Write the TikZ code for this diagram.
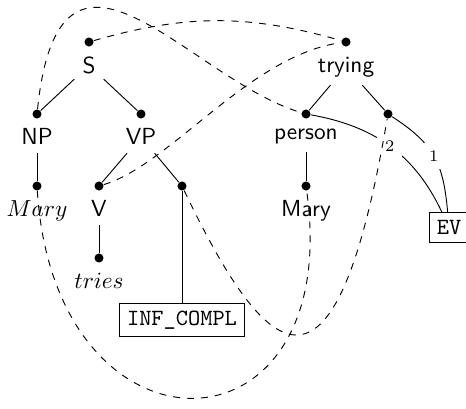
\documentclass[tikz,border=0pt]{standalone}
\usetikzlibrary{positioning}

\begin{document}
\begin{tikzpicture}[x=0.43pt,y=-0.43pt,
  dot/.style={circle,fill=black,inner sep=0pt,minimum size=3.9pt},
  lab/.style={font=\sffamily},
  box/.style={draw,font=\ttfamily},
  link/.style={dashed},
  num/.style={fill=white,font=\scriptsize}]
\useasboundingbox (0,0) rectangle (466,409);

%left tree
\node[dot] (sdot) at (89,42) {};
\node[lab,below=0.7pt of sdot] (S) {S};
\node[dot] (npdot) at (37,114) {};
\node[lab,below=0.7pt of npdot] (NP) {NP};
\node[dot] (vpdot) at (141,114) {};
\node[lab,below=0.7pt of vpdot] (VP) {VP};
\node[dot] (marydot) at (37,186) {};
\node[below=0.7pt of marydot] (mary) {$Mary$};
\node[dot] (vdot) at (99,186) {};
\node[lab,below=0.7pt of vdot] (V) {V};
\node[dot] (compdot) at (182,186) {};
\node[dot] (triesdot) at (99,258) {};
\node[below=0.7pt of triesdot] (tries) {$tries$};
\node[box] (comp) at (182,320) {INF\_COMPL};

%right tree
\node[dot] (trydot) at (346,42) {};
\node[lab,below=0.7pt of trydot] (trying) {trying};
\node[dot] (perdot) at (306,114) {};
\node[lab,below=0.7pt of perdot] (person) {person};
\node[dot] (argdot) at (388,114) {};
\node[dot] (mary2dot) at (306,186) {};
\node[lab,below=0.7pt of mary2dot] (mary2) {Mary};
\node[box] (ev) at (449,227.5) {EV};

%tree edges
\draw (S) -- (npdot);
\draw (S) -- (vpdot);
\draw (NP) -- (marydot);
\draw (VP) -- (vdot);
\draw (VP) -- (compdot);
\draw (V) -- (triesdot);
\draw (compdot) -- (comp);
\draw (trying) -- (perdot);
\draw (trying) -- (argdot);
\draw (person) -- (mary2dot);
\draw (perdot) to[out=-10,in=115] node[num] {2} (ev);
\draw (argdot) to[out=-33,in=95,looseness=1.15] node[num] {1} (ev);

%dashed links
\draw[link] (sdot) to[bend left=16] (trydot);
\draw[link] (npdot) .. controls (60,-105) and (190,80) .. (perdot);
\draw[link] (vdot) .. controls (170,165) and (250,55) .. (trydot);
\draw[link] (marydot) .. controls (55,470) and (345,465) .. (mary2dot);
\draw[link] (compdot) .. controls (270,370) and (336,420) .. (argdot);

\end{tikzpicture}
\end{document}
